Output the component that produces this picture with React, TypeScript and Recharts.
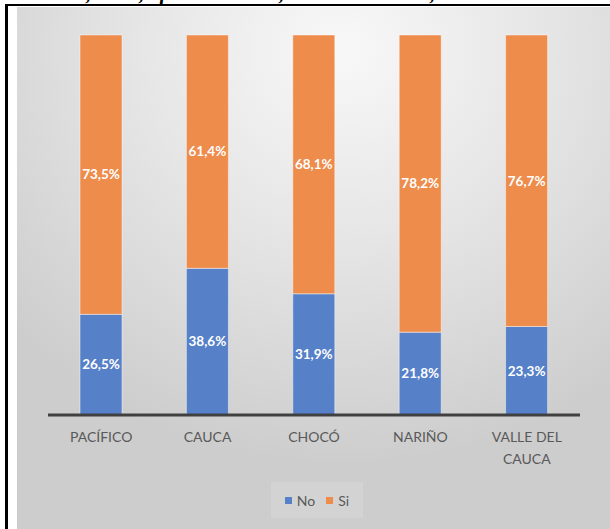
import React from 'react';
import { BarChart, Bar, XAxis, YAxis, LabelList } from 'recharts';

const categories = ['PACÍFICO', 'CAUCA', 'CHOCÓ', 'NARIÑO', 'VALLE DEL CAUCA'];
const noValues = [26.5, 38.6, 31.9, 21.8, 23.3];
const siValues = [73.5, 61.4, 68.1, 78.2, 76.7];
const seriesNames = ['No', 'Si'];
const seriesColors = ['#5680c8', '#ee8c4c'];

// cut-off heading fragments peeking above the frame
const headingBits = [
  { text: ',', x: 86 },
  { text: ',', x: 139 },
  { text: 'p', x: 160 },
  { text: ',', x: 279 },
  { text: ',', x: 430 },
];

const data = categories.map((name, i) => ({ name, no: noValues[i], si: siValues[i] }));

const fmt = (v: any) => `${Number(v).toFixed(1).replace('.', ',')}%`;

const FONT = 'Lato, "Open Sans", sans-serif';

const CategoryTick = (props: any) => {
  const { x, y, payload } = props;
  // wrap long names like Excel does
  const words = String(payload.value).split(' ');
  const lines: string[] = [];
  let cur = '';
  words.forEach((w) => {
    const next = cur ? `${cur} ${w}` : w;
    if (next.length > 10 && cur) {
      lines.push(cur);
      cur = w;
    } else cur = next;
  });
  if (cur) lines.push(cur);
  return (
    <text x={x} y={y} textAnchor="middle" fill="#595959" fontFamily={FONT} fontSize={14}>
      {lines.map((l, i) => (
        <tspan key={i} x={x} dy={i === 0 ? 27 : 22}>
          {l}
        </tspan>
      ))}
    </text>
  );
};

export default function App() {
  return (
    <div
      style={{
        position: 'absolute',
        left: 0,
        top: 0,
        width: 610,
        height: 529,
        overflow: 'hidden',
        background: '#fff',
      }}
    >
      {/* heading remnants */}
      <div style={{ position: 'absolute', left: 0, top: 0, width: 610, height: 4, overflow: 'hidden' }}>
        {headingBits.map((b, i) => (
          <span
            key={i}
            style={{
              position: 'absolute',
              left: b.x,
              top: -17,
              fontFamily: '"Liberation Serif", serif',
              fontWeight: 'bold',
              fontStyle: 'italic',
              fontSize: 21,
              lineHeight: '21px',
            }}
          >
            {b.text}
          </span>
        ))}
      </div>

      {/* frame lines */}
      <div style={{ position: 'absolute', left: 5, top: 4, width: 605, height: 2, background: '#000' }} />
      <div style={{ position: 'absolute', left: 5, top: 4, width: 3, height: 525, background: '#000' }} />

      {/* chart panel */}
      <div
        style={{
          position: 'absolute',
          left: 17,
          top: 7,
          width: 593,
          height: 522,
          background:
            'radial-gradient(ellipse 75% 80% at 55% 8%, #f8f8f8 0%, #e6e6e6 45%, #cdcdcd 100%)',
        }}
      >
        <BarChart
          width={593}
          height={522}
          data={data}
          margin={{ top: 28, right: 30, left: 31, bottom: 14 }}
          barCategoryGap={0}
        >
          <YAxis hide domain={[0, 100]} />
          <XAxis
            dataKey="name"
            height={100}
            axisLine={{ stroke: '#404040', strokeWidth: 3 }}
            tickLine={false}
            tickSize={0}
            tickMargin={0}
            interval={0}
            tick={<CategoryTick />}
          />
          <Bar
            dataKey="no"
            name={seriesNames[0]}
            stackId="a"
            fill={seriesColors[0]}
            stroke="rgba(255,255,255,0.45)"
            strokeWidth={1}
            barSize={42}
            isAnimationActive={false}
          >
            <LabelList
              dataKey="no"
              position="center"
              formatter={fmt}
              fill="#fff"
              fontFamily={FONT}
              fontWeight="bold"
              fontSize={13.5}
            />
          </Bar>
          <Bar
            dataKey="si"
            name={seriesNames[1]}
            stackId="a"
            fill={seriesColors[1]}
            stroke="rgba(255,255,255,0.45)"
            strokeWidth={1}
            barSize={42}
            isAnimationActive={false}
          >
            <LabelList
              dataKey="si"
              position="center"
              formatter={fmt}
              fill="#fff"
              fontFamily={FONT}
              fontWeight="bold"
              fontSize={13.5}
            />
          </Bar>
        </BarChart>

        {/* legend */}
        <div
          style={{
            position: 'absolute',
            left: 254,
            top: 475,
            width: 92,
            height: 36,
            background: 'rgba(255,255,255,0.12)',
            display: 'flex',
            alignItems: 'center',
            justifyContent: 'center',
            fontFamily: FONT,
            fontSize: 14,
            color: '#595959',
          }}
        >
          {seriesNames.map((n, i) => (
            <span key={n} style={{ display: 'flex', alignItems: 'center', marginRight: i === 0 ? 11 : 0 }}>
              <span
                style={{ width: 7, height: 7, background: seriesColors[i], marginRight: 5, display: 'inline-block' }}
              />
              {n}
            </span>
          ))}
        </div>
      </div>
    </div>
  );
}
